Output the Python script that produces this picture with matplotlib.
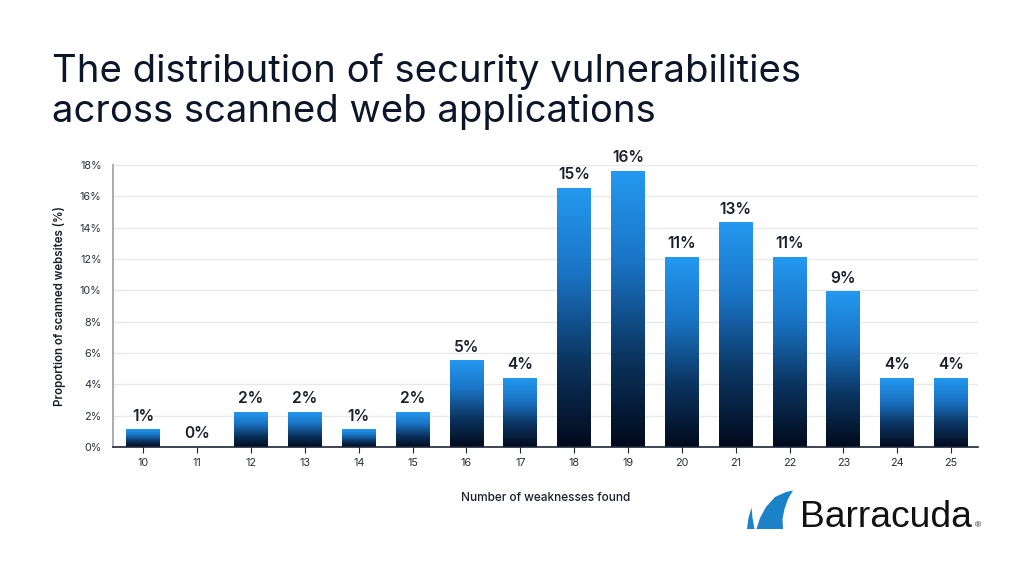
import numpy as np
import matplotlib
matplotlib.use("Agg")
import matplotlib.pyplot as plt
from matplotlib.colors import LinearSegmentedColormap
from matplotlib.patches import Polygon

# ---- data ----
weaknesses = [10, 11, 12, 13, 14, 15, 16, 17, 18, 19, 20, 21, 22, 23, 24, 25]
bar_heights = [1.1, 0.0, 2.2, 2.2, 1.1, 2.2, 5.5, 4.4, 16.5, 17.6, 12.1, 14.3, 12.1, 9.9, 4.4, 4.4]
value_labels = ["1%", "0%", "2%", "2%", "1%", "2%", "5%", "4%", "15%", "16%",
                "11%", "13%", "11%", "9%", "4%", "4%"]
y_ticks = [0, 2, 4, 6, 8, 10, 12, 14, 16, 18]
y_tick_labels = [f"{v}%" for v in y_ticks]
title_lines = ["The distribution of security vulnerabilities",
               "across scanned web applications"]
x_label = "Number of weaknesses found"
y_label = "Proportion of scanned websites (%)"

W, H = 1024, 576
fig = plt.figure(figsize=(W / 100, H / 100), dpi=100)
fig.patch.set_facecolor("white")

FONT = ["Inter", "DejaVu Sans"]
NAVY = "#0b1629"

ax = fig.add_axes([112.7 / W, 1 - 447 / H, (978 - 112.7) / W, (447 - 165) / H])

cmap = LinearSegmentedColormap.from_list("barg", ["#020a1c", "#0b3561", "#1a73c4", "#2399f0"])
grad = np.linspace(0, 1, 256).reshape(-1, 1)
bw = 0.63
for x, h, lab in zip(weaknesses, bar_heights, value_labels):
    if h > 0:
        ax.imshow(grad, cmap=cmap, origin="lower", aspect="auto",
                  extent=[x - bw / 2, x + bw / 2, 0, h], zorder=3, interpolation="bicubic")
    ax.annotate(lab, (x, h), xytext=(0, 4.5), textcoords="offset points",
                ha="center", va="bottom", fontsize=11.2, fontweight="semibold",
                color="#1a1f2b", family=FONT, zorder=4)

ax.set_xlim(weaknesses[0] - 0.57, weaknesses[-1] + 0.5)
ax.set_ylim(0, 18)
ax.set_xticks(weaknesses)
ax.set_xticklabels([str(w) for w in weaknesses], fontsize=7.8, color="#2a2f3a", family=FONT)
ax.set_yticks(y_ticks)
ax.set_yticklabels(y_tick_labels, fontsize=7.8, color="#2a2f3a", family=FONT)
ax.tick_params(axis="x", length=4, width=0.8, color="#1b2638", pad=4)
ax.tick_params(axis="y", length=0, pad=8)
ax.grid(axis="y", color="#e8e9eb", linewidth=1.0, zorder=0)
ax.set_axisbelow(True)
for s in ["top", "right"]:
    ax.spines[s].set_visible(False)
ax.spines["left"].set_color("#a0a6ae")
ax.spines["left"].set_linewidth(1.3)
ax.spines["bottom"].set_color("#1b2638")
ax.spines["bottom"].set_linewidth(1.2)
ax.spines["bottom"].set_zorder(5)

ax.set_xlabel(x_label, fontsize=8.5, fontweight="medium", color="#1a1f2b", family=FONT, labelpad=17)
ax.set_ylabel(y_label, fontsize=8.3, fontweight="semibold", color="#1a1f2b", family=FONT, labelpad=10)

# ---- title, sized to the reference width ----
renderer = fig.canvas.get_renderer()
t1 = fig.text(52 / W, 1 - 82 / H, title_lines[0], fontsize=28, color=NAVY, family=FONT,
              ha="left", va="baseline")
bb = t1.get_window_extent(renderer)
fs = 28 * (800 - 52) / bb.width
t1.set_fontsize(fs)
fig.text(52 / W, 1 - 122 / H, title_lines[1], fontsize=fs, color=NAVY, family=FONT,
         ha="left", va="baseline")

# ---- logo ----
fin_color = "#1b82c8"
sliver = [(747, 529), (748.5, 518), (751.5, 507.5), (752.5, 518), (754.5, 529)]
fin = [(756.5, 529), (760, 518), (766, 507), (775, 497), (786, 492), (793, 490.5),
       (788, 499), (784.5, 509), (782.5, 519), (783, 529)]
for pts in (sliver, fin):
    fig.patches.append(Polygon([(px / W, 1 - py / H) for px, py in pts], closed=True,
                               transform=fig.transFigure, facecolor=fin_color,
                               edgecolor="none"))
lt = fig.text(800 / W, 1 - 527 / H, "Barracuda", fontsize=27, color="#111111",
              family=["Liberation Sans", "DejaVu Sans"], ha="left", va="baseline")
bb = lt.get_window_extent(renderer)
lt.set_fontsize(27 * (972 - 800) / bb.width)
fig.text(975 / W, 1 - 527 / H, "®", fontsize=6, color="#111111",
         family=["Liberation Sans", "DejaVu Sans"], ha="left", va="baseline")

fig.savefig("out.png", dpi=100, facecolor="white")
